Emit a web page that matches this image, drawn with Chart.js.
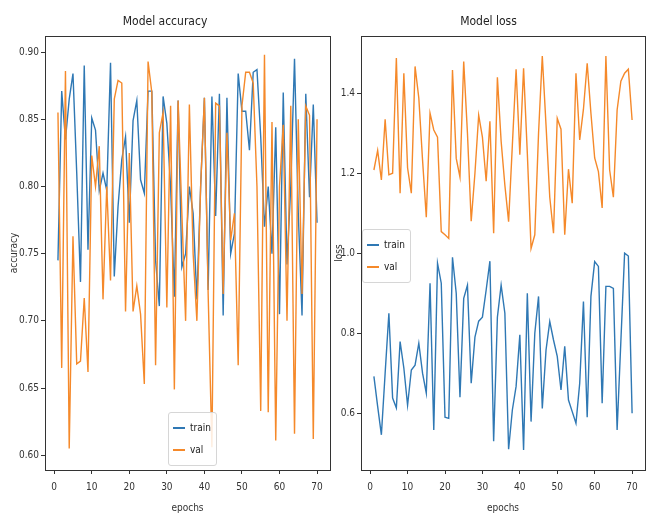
<!DOCTYPE html>
<html>
<head>
<meta charset="utf-8">
<script src="https://cdn.jsdelivr.net/npm/chart.js@4.4.1/dist/chart.umd.min.js"></script>
<style>
  html, body { margin: 0; padding: 0; background: #fff; }
  body { width: 647px; height: 514px; position: relative; overflow: hidden;
         font-family: 'DejaVu Sans Condensed', 'Liberation Sans Narrow', 'DejaVu Sans', sans-serif; }
  .cv { position: absolute; top: 0; }
  .legend { position: absolute; background: rgba(255,255,255,0.85); border: 1px solid #d6d6d6;
            border-radius: 3px; font-size: 10px; color: #222; padding: 4px 5px 4px 4px; line-height: 22px; }
  .legend .row { display: flex; align-items: center; white-space: nowrap; }
  .legend .sw { display: inline-block; width: 12px; height: 0; border-top: 2px solid; margin-right: 5px; }
</style>
</head>
<body>
<div class="cv" style="left:0;width:335px;height:514px;"><canvas id="acc"></canvas></div>
<div class="cv" style="left:332px;width:315px;height:514px;"><canvas id="loss"></canvas></div>

<div class="legend" id="legAcc" style="left:168px;top:412px;"></div>
<div class="legend" id="legLoss" style="left:362px;top:229px;"></div>

<script>
// ---------- data ----------
const epochs = [1,2,3,4,5,6,7,8,9,10,11,12,13,14,15,16,17,18,19,20,
  21,22,23,24,25,26,27,28,29,30,31,32,33,34,35,36,37,38,39,40,
  41,42,43,44,45,46,47,48,49,50,51,52,53,54,55,56,57,58,59,60,
  61,62,63,64,65,66,67,68,69,70];

const trainAcc = [0.745,0.871,0.835,0.865,0.884,0.810,0.729,0.890,0.753,0.851,
  0.842,0.797,0.810,0.797,0.892,0.733,0.785,0.820,0.837,0.773,
  0.849,0.864,0.805,0.795,0.871,0.871,0.745,0.711,0.867,0.847,
  0.800,0.718,0.864,0.740,0.750,0.800,0.780,0.716,0.800,0.866,
  0.723,0.867,0.778,0.869,0.704,0.866,0.750,0.765,0.884,0.856,
  0.856,0.827,0.885,0.887,0.837,0.770,0.800,0.750,0.844,0.705,
  0.870,0.742,0.800,0.895,0.780,0.704,0.869,0.792,0.861,0.773];

const valAcc = [0.855,0.665,0.886,0.605,0.763,0.668,0.670,0.717,0.662,0.823,
  0.800,0.830,0.716,0.800,0.730,0.865,0.879,0.877,0.707,0.825,
  0.707,0.726,0.705,0.653,0.893,0.870,0.667,0.840,0.855,0.710,
  0.860,0.649,0.864,0.780,0.700,0.861,0.750,0.700,0.800,0.866,
  0.720,0.606,0.862,0.860,0.720,0.840,0.760,0.780,0.667,0.860,
  0.885,0.885,0.877,0.800,0.633,0.898,0.632,0.848,0.611,0.800,
  0.846,0.700,0.860,0.616,0.850,0.720,0.860,0.853,0.612,0.850];

const trainLoss = [0.692,0.617,0.546,0.700,0.850,0.638,0.613,0.779,0.713,0.620,
  0.708,0.720,0.775,0.700,0.650,0.925,0.558,0.975,0.925,0.590,
  0.587,0.990,0.900,0.640,0.887,0.920,0.675,0.790,0.830,0.840,
  0.908,0.980,0.530,0.840,0.920,0.850,0.510,0.608,0.667,0.796,
  0.508,0.900,0.579,0.800,0.892,0.612,0.758,0.829,0.783,0.742,
  0.658,0.767,0.633,0.604,0.575,0.675,0.879,0.590,0.892,0.979,
  0.967,0.625,0.917,0.917,0.912,0.558,0.780,1.000,0.993,0.600];

const valLoss = [1.208,1.257,1.183,1.335,1.196,1.200,1.488,1.150,1.450,1.213,
  1.150,1.467,1.388,1.233,1.090,1.350,1.308,1.290,1.054,1.046,
  1.037,1.458,1.237,1.190,1.479,1.300,1.080,1.200,1.345,1.290,
  1.180,1.330,1.050,1.440,1.280,1.170,1.079,1.270,1.460,1.246,
  1.462,1.250,1.012,1.046,1.300,1.493,1.320,1.140,1.050,1.337,
  1.310,1.046,1.210,1.125,1.450,1.283,1.360,1.475,1.350,1.238,
  1.204,1.113,1.493,1.208,1.140,1.358,1.430,1.450,1.460,1.333];

const epochTicks = [0,10,20,30,40,50,60,70];
const accTicks = [0.60,0.65,0.70,0.75,0.80,0.85,0.90];
const lossTicks = [0.6,0.8,1.0,1.2,1.4];
const seriesNames = ['train','val'];
const titles = ['Model accuracy','Model loss'];
const yTitles = ['accuracy','loss'];
const xTitle = 'epochs';

// ---------- styling ----------
const BLUE = '#2f78b4';
const ORANGE = '#f5892a';
const AX = '#333333';
const FONT = "'DejaVu Sans Condensed', 'Liberation Sans Narrow', 'DejaVu Sans', sans-serif";

const framePlugin = {
  id: 'frame',
  afterDatasetsDraw(chart) {
    const a = chart.chartArea, c = chart.ctx;
    c.save();
    c.strokeStyle = AX; c.lineWidth = 1;
    c.strokeRect(Math.round(a.left) + 0.5, Math.round(a.top) + 0.5,
                 Math.round(a.right - a.left), Math.round(a.bottom - a.top));
    c.restore();
  }
};

function pts(ys) { return epochs.map((e, i) => ({ x: e, y: ys[i] })); }

function makeChart(id, tr, va, yMin, yMax, yTicks, dec, yAxisW, padRight, title, yTitle, yTitlePad) {
  return new Chart(document.getElementById(id), {
    type: 'line',
    data: {
      datasets: [
        { label: seriesNames[0], data: pts(tr), borderColor: BLUE, backgroundColor: BLUE,
          borderWidth: 1.4, pointRadius: 0, tension: 0, order: 1 },
        { label: seriesNames[1], data: pts(va), borderColor: ORANGE, backgroundColor: ORANGE,
          borderWidth: 1.4, pointRadius: 0, tension: 0, order: 0 }
      ]
    },
    options: {
      responsive: true, maintainAspectRatio: false, animation: false,
      layout: { padding: { top: 0, right: padRight, bottom: 0, left: 0 } },
      plugins: {
        legend: { display: false },
        tooltip: { enabled: false },
        title: { display: true, text: title, color: '#222',
                 font: { family: FONT, size: 12, weight: 'normal' },
                 padding: { top: 15, bottom: 6.6 } }
      },
      scales: {
        x: {
          type: 'linear', min: -2.45, max: 73.45,
          afterBuildTicks: s => { s.ticks = epochTicks.map(v => ({ value: v })); },
          afterFit: s => { s.height = 44; },
          grid: { drawOnChartArea: false, drawTicks: true, tickLength: 4, color: AX },
          border: { display: true, color: AX },
          ticks: { color: '#333', font: { family: FONT, size: 10 }, padding: 7, maxRotation: 0 },
          title: { display: true, text: xTitle, color: '#333', font: { family: FONT, size: 10 },
                   padding: { top: 1, bottom: 0 } }
        },
        y: {
          type: 'linear', min: yMin, max: yMax,
          afterBuildTicks: s => { s.ticks = yTicks.map(v => ({ value: v })); },
          afterFit: s => { s.width = yAxisW; },
          grid: { drawOnChartArea: false, drawTicks: true, tickLength: 4, color: AX },
          border: { display: true, color: AX },
          ticks: { color: '#333', font: { family: FONT, size: 10 }, padding: 2,
                   callback: v => Number(v).toFixed(dec) },
          title: { display: true, text: yTitle, color: '#333', font: { family: FONT, size: 10 },
                   padding: { top: yTitlePad, bottom: 2 } }
        }
      }
    },
    plugins: [framePlugin]
  });
}

makeChart('acc', trainAcc, valAcc, 0.589, 0.912, accTicks, 2, 45, 5, titles[0], yTitles[0], 8);
makeChart('loss', trainLoss, valLoss, 0.458, 1.543, lossTicks, 1, 29, 2, titles[1], yTitles[1], 1);

function buildLegend(elId) {
  const el = document.getElementById(elId);
  [[seriesNames[0], BLUE], [seriesNames[1], ORANGE]].forEach(([name, col]) => {
    const r = document.createElement('div'); r.className = 'row';
    const sw = document.createElement('span'); sw.className = 'sw'; sw.style.borderTopColor = col;
    const t = document.createElement('span'); t.textContent = name;
    r.appendChild(sw); r.appendChild(t); el.appendChild(r);
  });
}
buildLegend('legAcc');
buildLegend('legLoss');
</script>
</body>
</html>
